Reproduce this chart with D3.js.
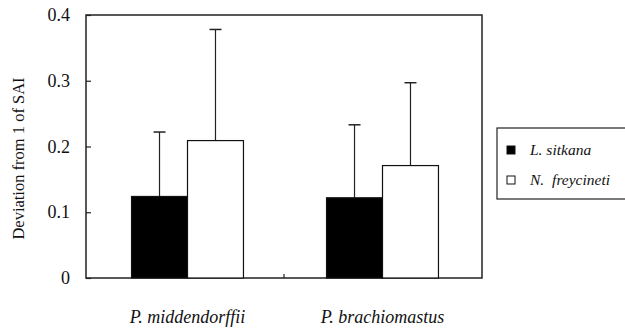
<!DOCTYPE html>
<html>
<head>
<meta charset="utf-8">
<script src="https://cdn.jsdelivr.net/npm/d3@7"></script>
<style>
  body { margin: 0; background: #fff; }
</style>
</head>
<body>
<svg width="625" height="331"></svg>
<script>
const categories = ['P. middendorffii', 'P. brachiomastus']
const series = ['L. sitkana', 'N. freycineti']
const means = [[0.124, 0.209], [0.122, 0.171]]
const errors = [[0.098, 0.169], [0.111, 0.126]]
const yTicks = [0, 0.1, 0.2, 0.3, 0.4]
const fills = ['#000', '#fff']

const serif = '"Liberation Serif"'
const svg = d3.select('svg')
const plotL = 86, plotR = 482, plotT = 15, plotB = 278

const y = d3.scaleLinear().domain([0, 0.4]).range([plotB, plotT])
const x0 = d3.scaleBand().domain(categories).range([90, 480])
    .paddingInner(0.426).paddingOuter(0.213)
const x1 = d3.scaleBand().domain(series).range([0, x0.bandwidth()])

// frame
svg.append('rect')
    .attr('x', plotL).attr('y', plotT)
    .attr('width', plotR - plotL).attr('height', plotB - plotT)
    .attr('fill', 'none').attr('stroke', '#222').attr('stroke-width', 1.5)

// y axis ticks inside
const yAxis = svg.append('g')
    .attr('transform', `translate(${plotL},0)`)
    .call(d3.axisRight(y).tickValues(yTicks).tickSize(5).tickFormat(''))
yAxis.select('.domain').remove()
yAxis.selectAll('line').attr('stroke', '#222').attr('stroke-width', 1.2)
svg.append('g').selectAll('text').data(yTicks).join('text')
    .attr('x', 70).attr('y', d => y(d) + 6)
    .attr('text-anchor', 'end')
    .attr('font-family', serif).attr('font-size', 18).attr('fill', '#111')
    .text(d => d === 0 ? '0' : d.toFixed(1))

// middle category tick on bottom
svg.append('line')
    .attr('x1', (plotL + plotR) / 2).attr('x2', (plotL + plotR) / 2)
    .attr('y1', plotB).attr('y2', plotB - 4)
    .attr('stroke', '#222').attr('stroke-width', 1.2)

// y title
svg.append('text')
    .attr('transform', `translate(24,${(plotT + plotB) / 2 + 12}) rotate(-90)`)
    .attr('text-anchor', 'middle')
    .attr('font-family', serif).attr('font-size', 16.5).attr('fill', '#111')
    .text('Deviation from 1 of SAI')

// bars and error bars
const groups = svg.append('g').selectAll('g').data(categories).join('g')
    .attr('transform', d => `translate(${x0(d)},0)`)

groups.each(function (c, ci) {
    const g = d3.select(this)
    series.forEach((s, si) => {
        const cx = x1(s) + x1.bandwidth() / 2
        const m = means[ci][si], e = errors[ci][si]
        g.append('line')
            .attr('x1', cx).attr('x2', cx)
            .attr('y1', y(m)).attr('y2', y(m + e))
            .attr('stroke', '#222').attr('stroke-width', 1.2)
        g.append('line')
            .attr('x1', cx - 6).attr('x2', cx + 6)
            .attr('y1', y(m + e)).attr('y2', y(m + e))
            .attr('stroke', '#222').attr('stroke-width', 1.5)
        g.append('rect')
            .attr('x', x1(s)).attr('y', y(m))
            .attr('width', x1.bandwidth()).attr('height', plotB - y(m))
            .attr('fill', fills[si]).attr('stroke', '#111').attr('stroke-width', 1.2)
    })
})

// category labels
svg.append('g').selectAll('text').data(categories).join('text')
    .attr('x', d => x0(d) + x0.bandwidth() / 2)
    .attr('y', 323)
    .attr('text-anchor', 'middle')
    .attr('font-family', serif).attr('font-size', 18).attr('font-style', 'italic').attr('fill', '#111')
    .text(d => d)

// legend
const legend = svg.append('g').attr('transform', 'translate(497,128)')
legend.append('rect')
    .attr('width', 140).attr('height', 71)
    .attr('fill', '#fff').attr('stroke', '#222').attr('stroke-width', 1.2)
series.forEach((s, i) => {
    const row = legend.append('g').attr('transform', `translate(0,${18 + i * 30})`)
    row.append('rect')
        .attr('x', 10).attr('y', 0).attr('width', 8).attr('height', 8)
        .attr('fill', fills[i]).attr('stroke', '#111').attr('stroke-width', 1)
    row.append('text')
        .attr('x', 33).attr('y', 9)
        .attr('font-family', serif).attr('font-size', 15.5).attr('font-style', 'italic').attr('fill', '#111')
        .attr('word-spacing', i === 1 ? 4 : 0)
        .text(s)
})
</script>
</body>
</html>
